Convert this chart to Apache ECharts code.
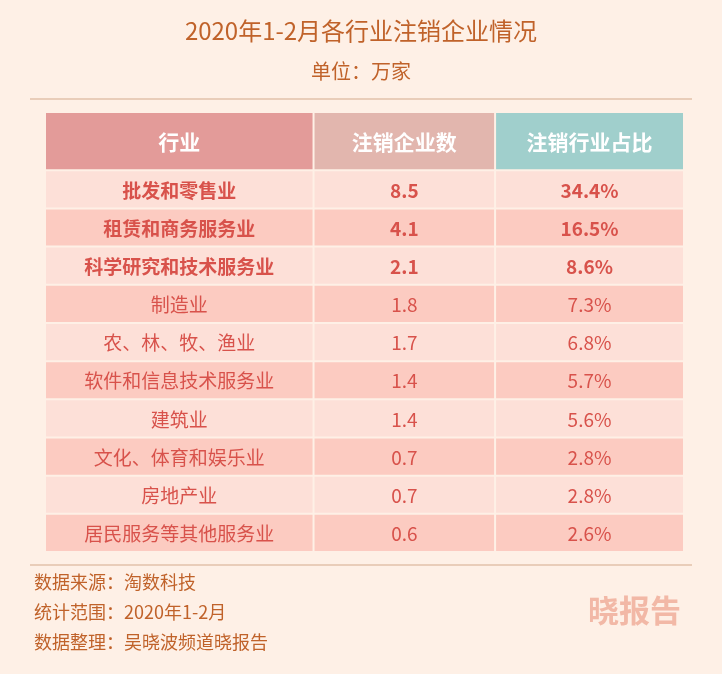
<!DOCTYPE html>
<html><head><meta charset="utf-8">
<script src="https://cdn.jsdelivr.net/npm/echarts@6/dist/echarts.min.js"></script>
<style>html,body{margin:0;background:#fef0e6}#c{width:722px;height:674px}</style>
</head><body><div id="c"></div>
<script>
var headers = ['行业', '注销企业数', '注销行业占比'];
var industries = ['批发和零售业', '租赁和商务服务业', '科学研究和技术服务业', '制造业', '农、林、牧、渔业',
    '软件和信息技术服务业', '建筑业', '文化、体育和娱乐业', '房地产业', '居民服务等其他服务业'];
var counts = ['8.5', '4.1', '2.1', '1.8', '1.7', '1.4', '1.4', '0.7', '0.7', '0.6'];
var shares = ['34.4%', '16.5%', '8.6%', '7.3%', '6.8%', '5.7%', '5.6%', '2.8%', '2.8%', '2.6%'];
var boldRows = 3;

var colEdges = [0, 0.42, 0.705, 1];
var headColors = ['#e39b99', '#e2b6ae', '#a0cfcc'];
var textColor = '#d8524b';
var brown = '#c0622a';

var chart = echarts.init(document.getElementById('c'));
var rows = industries.map(function (name, i) { return [i, name, counts[i], shares[i]]; });
rows.unshift([-1].concat(headers));

function renderItem(params, api) {
    var r = api.value(0);
    var top = r < 0 ? 0 : 1.5 + r, bot = r < 0 ? 1.5 : 2.5 + r;
    var kids = [];
    for (var c = 0; c < 3; c++) {
        var p0 = api.coord([colEdges[c], top]);
        var p1 = api.coord([colEdges[c + 1], bot]);
        var fill = r < 0 ? headColors[c] : (r % 2 === 0 ? '#fde0d8' : '#fccbc1');
        var x = p0[0] + (c > 0 ? 1 : 0), w = p1[0] - p0[0] - (c > 0 ? 1 : 0) - (c < 2 ? 1 : 0);
        var y = p0[1] + (r >= 0 ? 1 : 0), h = p1[1] - p0[1] - (r >= 0 ? 1 : 0) - 1;
        kids.push({ type: 'rect', shape: { x: x, y: y, width: w, height: h }, style: { fill: fill } });
        kids.push({ type: 'text', style: {
            text: api.value(c + 1), x: x + w / 2, y: y + h / 2 + 1, align: 'center', verticalAlign: 'middle',
            fill: r < 0 ? '#fff' : textColor,
            font: (r < boldRows ? 'bold ' : '') + (r < 0 ? '21px' : '19px') + ' "Noto Sans CJK SC", sans-serif'
        } });
    }
    return { type: 'group', children: kids };
}

chart.setOption({
    backgroundColor: '#fef0e6',
    title: [{
        text: '2020年1-2月各行业注销企业情况', left: 'center', top: 14,
        textStyle: { color: brown, fontSize: 24, fontWeight: 'normal', fontFamily: 'Noto Sans CJK SC' }
    }, {
        text: '单位：万家', left: 'center', top: 56,
        textStyle: { color: brown, fontSize: 20, fontWeight: 'normal', fontFamily: 'Noto Sans CJK SC' }
    }],
    grid: { left: 46, right: 39, top: 113, bottom: 122 },
    xAxis: { type: 'value', min: 0, max: 1, show: false },
    yAxis: { type: 'value', min: 0, max: 11.5, inverse: true, show: false },
    series: [{ type: 'custom', renderItem: renderItem, data: rows, encode: { x: -1, y: 0 }, animation: false }],
    graphic: [
        { type: 'line', shape: { x1: 30, y1: 99, x2: 692, y2: 99 }, style: { stroke: '#e9cdb9', lineWidth: 2 } },
        { type: 'line', shape: { x1: 30, y1: 565, x2: 692, y2: 565 }, style: { stroke: '#e9cdb9', lineWidth: 2 } },
        { type: 'text', left: 34, top: 573, style: { text: '数据来源：淘数科技', fill: brown, font: '18px "Noto Sans CJK SC"' } },
        { type: 'text', left: 34, top: 603, style: { text: '统计范围：2020年1-2月', fill: brown, font: '18px "Noto Sans CJK SC"' } },
        { type: 'text', left: 34, top: 633, style: { text: '数据整理：吴晓波频道晓报告', fill: brown, font: '18px "Noto Sans CJK SC"' } },
        { type: 'text', left: 588, top: 595, style: { text: '晓报告', fill: '#f2b8a6', font: 'bold 31px "Noto Sans CJK SC"' } }
    ]
});
</script></body></html>
